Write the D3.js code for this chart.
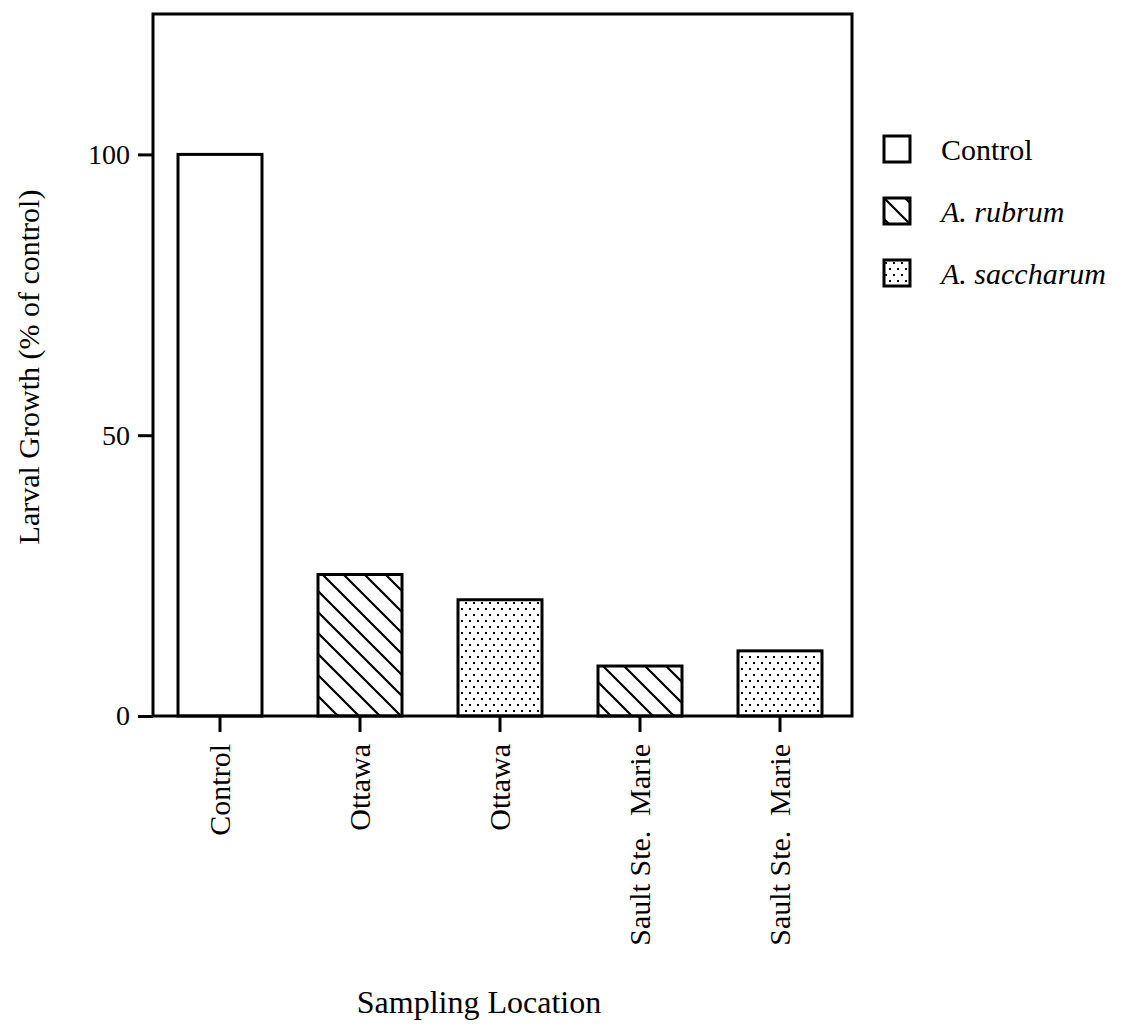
<!DOCTYPE html>
<html>
<head>
<meta charset="utf-8">
<script src="https://cdn.jsdelivr.net/npm/d3@7"></script>
<style>
  body { margin: 0; background: #fff; }
  text { font-family: "Liberation Serif", "Times New Roman", serif; fill: #000; }
</style>
</head>
<body>
<div id="chart"></div>
<script>
// data
var locations = ["Control", "Ottawa", "Ottawa", "Sault Ste.  Marie", "Sault Ste.  Marie"];
var species = ["control", "rubrum", "saccharum", "rubrum", "saccharum"];
var growth = [100, 25.2, 20.7, 8.9, 11.6];
var yTicks = [0, 50, 100];
var legendKeys = ["control", "rubrum", "saccharum"];
var legendLabels = ["Control", "A. rubrum", "A. saccharum"];

var svgWidth = 1124;
var svgHeight = 1030;

var frame = { left: 153, right: 852, top: 14, bottom: 716 };

var svg = d3.select("#chart")
    .append("svg")
    .attr("width", svgWidth)
    .attr("height", svgHeight);

// fill patterns
var defs = svg.append("defs");

var hatch = defs.append("pattern")
    .attr("id", "hatch")
    .attr("patternUnits", "userSpaceOnUse")
    .attr("width", 21)
    .attr("height", 21);
hatch.append("rect").attr("width", 21).attr("height", 21).attr("fill", "#fff");
hatch.append("path")
    .attr("d", "M-5,-5L26,26M-5,16L5,26M16,-5L26,5")
    .attr("stroke", "#000")
    .attr("stroke-width", 2.2);

var dots = defs.append("pattern")
    .attr("id", "dots")
    .attr("patternUnits", "userSpaceOnUse")
    .attr("width", 8)
    .attr("height", 12);
dots.append("rect").attr("width", 8).attr("height", 12).attr("fill", "#fff");
dots.append("rect").attr("x", 1).attr("y", 2).attr("width", 2).attr("height", 2).attr("fill", "#000");
dots.append("rect").attr("x", 5).attr("y", 8).attr("width", 2).attr("height", 2).attr("fill", "#000");

var fillFor = { control: "#fff", rubrum: "url(#hatch)", saccharum: "url(#dots)" };

// scales
var idx = d3.range(growth.length);

var xScale = d3.scaleBand()
    .domain(idx)
    .range([150, 850])
    .paddingInner(0.4)
    .paddingOuter(0.2);

var yScale = d3.scaleLinear()
    .domain([0, 125])
    .range([frame.bottom, frame.top]);

// bars
svg.append("g")
    .selectAll("rect")
    .data(idx)
    .enter()
    .append("rect")
    .attr("x", i => xScale(i))
    .attr("y", i => yScale(growth[i]))
    .attr("width", xScale.bandwidth())
    .attr("height", i => yScale(0) - yScale(growth[i]))
    .attr("fill", i => fillFor[species[i]])
    .attr("stroke", "#000")
    .attr("stroke-width", 3);

// frame
svg.append("rect")
    .attr("x", frame.left)
    .attr("y", frame.top)
    .attr("width", frame.right - frame.left)
    .attr("height", frame.bottom - frame.top)
    .attr("fill", "none")
    .attr("stroke", "#000")
    .attr("stroke-width", 3);

// y axis
var yAxis = svg.append("g")
    .attr("transform", `translate(${frame.left}, 0)`)
    .call(d3.axisLeft(yScale).tickValues(yTicks).tickSize(15).tickPadding(8));
yAxis.select(".domain").remove();
yAxis.selectAll("line").attr("stroke-width", 3);
yAxis.selectAll("text")
    .style("font-size", "28px")
    .style("font-family", "'Liberation Serif', serif");

// x axis
var xAxis = svg.append("g")
    .attr("transform", `translate(0, ${frame.bottom})`)
    .call(d3.axisBottom(xScale).tickSize(16).tickSizeOuter(0).tickFormat(i => locations[i]));
xAxis.select(".domain").remove();
xAxis.selectAll("line").attr("stroke-width", 3);
xAxis.selectAll("text")
    .style("font-size", "30px")
    .style("font-family", "'Liberation Serif', serif")
    .style("white-space", "pre")
    .attr("text-anchor", "end")
    .attr("transform", "rotate(-90)")
    .attr("x", -28)
    .attr("y", 0)
    .attr("dy", "0.33em");

// axis titles
svg.append("text")
    .attr("transform", "rotate(-90)")
    .attr("x", -367)
    .attr("y", 39)
    .attr("text-anchor", "middle")
    .style("font-size", "30px")
    .text("Larval Growth (% of control)");

svg.append("text")
    .attr("x", 479)
    .attr("y", 1013)
    .attr("text-anchor", "middle")
    .style("font-size", "32px")
    .text("Sampling Location");

// legend
var legend = svg.append("g")
    .selectAll("g")
    .data(legendKeys)
    .enter()
    .append("g")
    .attr("transform", (d, i) => `translate(884, ${136 + i * 62})`);

legend.append("rect")
    .attr("width", 26)
    .attr("height", 26)
    .attr("fill", d => fillFor[d])
    .attr("stroke", "#000")
    .attr("stroke-width", 3);

legend.append("text")
    .attr("x", 57)
    .attr("y", 24)
    .style("font-size", "30px")
    .style("font-style", (d, i) => i === 0 ? "normal" : "italic")
    .text((d, i) => legendLabels[i]);
</script>
</body>
</html>
